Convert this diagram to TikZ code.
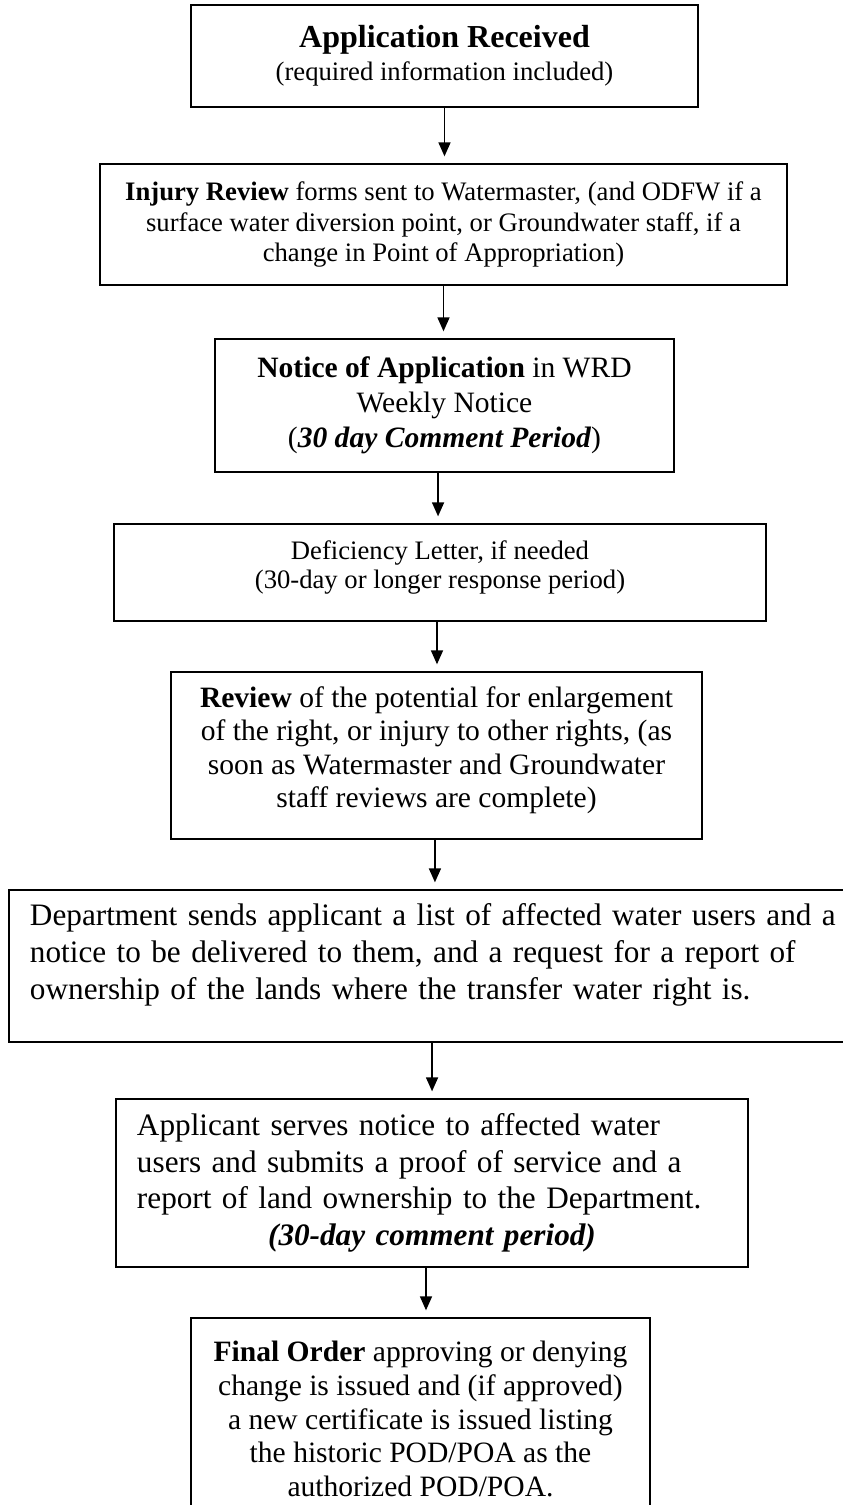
\documentclass[tikz,border=0pt]{standalone}
\usepackage{fontspec}
\setmainfont{Liberation Serif}
\usetikzlibrary{arrows.meta}

\begin{document}
\begin{tikzpicture}[x=0.45pt,y=-0.45pt,
    box/.style={draw,line width=0.9pt,align=center,inner sep=0pt},
    arr/.style={-{Triangle[length=6.3pt,width=5.4pt]},line width=0.7pt,shorten >=3pt}]
                    \useasboundingbox (0,0) rectangle (843,1505);
                    \node[box,minimum width=228.15pt,minimum height=45.9pt,font=\fontsize{12}{14.85}\selectfont]
                        (app) at (444.5,56) {{\fontsize{14.4}{14.85}\selectfont\textbf{Application Received}}\\(required information included)};
                    \node[box,minimum width=309.15pt,minimum height=54.45pt,font=\fontsize{12}{13.7}\selectfont]
                        (injury) at (443.5,224.5) {\textbf{Injury Review} forms sent to Watermaster, (and ODFW if a\\surface water diversion point, or Groundwater staff, if a\\change in Point of Appropriation)};
                    \node[box,minimum width=206.55pt,minimum height=59.85pt,font=\fontsize{13.3}{15.75}\selectfont]
                        (notice) at (444.5,405.5) {\textbf{Notice of Application} in WRD\\Weekly Notice\\(\textbf{\textit{30 day Comment Period}})};
                    \node[box,minimum width=293.4pt,minimum height=43.65pt,font=\fontsize{12}{13.05}\selectfont]
                        (defic) at (440,572.5) {Deficiency Letter, if needed\\(30-day or longer response period)\rule[-7pt]{0pt}{7pt}};
                    \node[box,minimum width=238.95pt,minimum height=75.15pt,font=\fontsize{13.3}{15.1}\selectfont]
                        (review) at (436.5,755.5) {\textbf{Review} of the potential for enlargement\\of the right, or injury to other rights, (as\\soon as Watermaster and Groundwater\\staff reviews are complete)\rule[-7.5pt]{0pt}{7.5pt}};
                    \node[box,minimum width=391.95pt,minimum height=68.4pt,text width=373.05pt,align=left,font=\fontsize{14.05}{16.65}\selectfont]
                        (dept) at (444.5,966) {Department sends applicant a list of affected water users and a\\notice to be delivered to them, and a request for a report of\\ownership of the lands where the transfer water right is.\rule[-13pt]{0pt}{13pt}};
                    \node[box,minimum width=284.4pt,minimum height=75.6pt,text width=265.5pt,align=left,font=\fontsize{14.05}{16.5}\selectfont]
                        (serve) at (432,1183) {Applicant serves notice to affected water\\users and submits a proof of service and a\\report of land ownership to the Department.\\\makebox[\hsize]{\textbf{\textit{(30-day comment period)}}}};
                    \node[box,minimum width=206.55pt,minimum height=90.9pt,font=\fontsize{13.3}{15.2}\selectfont]
                        (final) at (420.5,1419) {\textbf{Final Order} approving or denying\\change is issued and (if approved)\\a new certificate is issued listing\\the historic POD/POA as the\\authorized POD/POA.};
                    \draw[arr] (app.south) -- (app.south |- injury.north);
                    \draw[arr] (injury.south) -- (injury.south |- notice.north);
                    \draw[arr] ([xshift=-2.9pt]notice.south) -- ([xshift=-2.9pt]notice.south |- defic.north);
                    \draw[arr] ([xshift=-1.35pt]defic.south) -- ([xshift=-1.35pt]defic.south |- review.north);
                    \draw[arr] ([xshift=-0.7pt]review.south) -- ([xshift=-0.7pt]review.south |- dept.north);
                    \draw[arr] ([xshift=-5.6pt]dept.south) -- ([xshift=-5.6pt]dept.south |- serve.north);
                    \draw[arr] ([xshift=-2.7pt]serve.south) -- ([xshift=-2.7pt]serve.south |- final.north);
                \end{tikzpicture}
\end{document}
